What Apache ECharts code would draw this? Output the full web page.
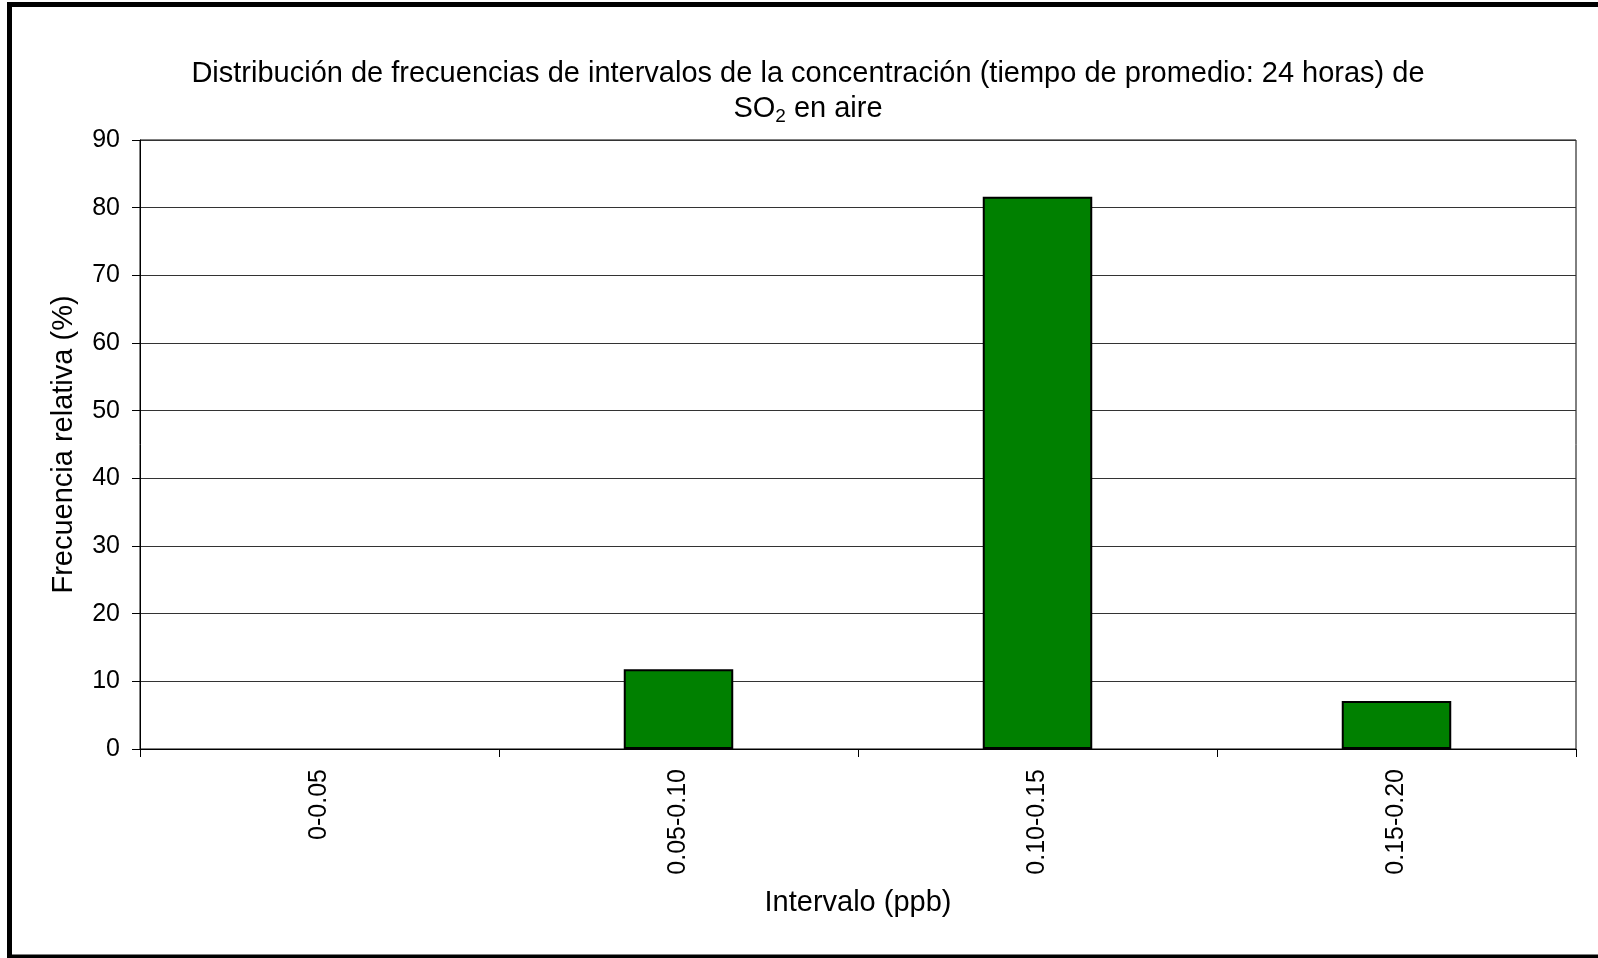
<!DOCTYPE html>
<html>
<head>
<meta charset="utf-8">
<script src="https://cdn.jsdelivr.net/npm/echarts@6/dist/echarts.min.js"></script>
<style>
  html, body { margin: 0; padding: 0; background: #fff; }
  #chart { width: 1598px; height: 958px; }
</style>
</head>
<body>
<div id="chart"></div>
<script>
// data
const categories = ['0-0.05', '0.05-0.10', '0.10-0.15', '0.15-0.20'];
const frequencies = [0, 11.8, 81.6, 7.1];
const yTicks = { min: 0, max: 90, interval: 10 };

const font = 'Liberation Sans, Arial, sans-serif';

const chart = echarts.init(document.getElementById('chart'));

chart.setOption({
  backgroundColor: '#fff',
  animation: false,
  title: {
    text: '{t|Distribución de frecuencias de intervalos de la concentración (tiempo de promedio: 24 horas) de}\n{t|SO}{sub|2}{t| en aire}',
    left: 803,
    textAlign: 'center',
    top: 51,
    textStyle: {
      rich: {
        t: { fontFamily: font, fontSize: 29, fontWeight: 'normal', color: '#000', lineHeight: 35 },
        sub: { fontFamily: font, fontSize: 19, fontWeight: 'normal', color: '#000', lineHeight: 35, padding: [16, 0, 0, 0] },
      },
    },
  },
  graphic: [{
    type: 'rect',
    shape: { x: 9.5, y: 4.5, width: 1700, height: 952.5 },
    style: { fill: 'none', stroke: '#000', lineWidth: 5 },
    silent: true,
  }],
  grid: {
    left: 140,
    right: 22,
    top: 140,
    bottom: 209,
    show: true,
    borderColor: '#000',
    borderWidth: 1,
  },
  xAxis: {
    type: 'category',
    data: categories,
    name: 'Intervalo (ppb)',
    nameLocation: 'middle',
    nameGap: 139,
    nameTextStyle: { fontFamily: font, fontSize: 29, color: '#000' },
    axisLine: { lineStyle: { color: '#000', width: 1 } },
    axisTick: { show: true, length: 8, lineStyle: { color: '#000' } },
    axisLabel: { rotate: 90, margin: 20, fontFamily: font, fontSize: 25, color: '#000' },
    splitLine: { show: false },
  },
  yAxis: {
    type: 'value',
    min: yTicks.min,
    max: yTicks.max,
    interval: yTicks.interval,
    name: 'Frecuencia relativa (%)',
    nameLocation: 'middle',
    nameGap: 62,
    nameTextStyle: { fontFamily: font, fontSize: 29, color: '#000' },
    axisLine: { show: true, lineStyle: { color: '#000', width: 1 } },
    axisTick: { show: true, length: 8, lineStyle: { color: '#000' } },
    axisLabel: { margin: 20, fontFamily: font, fontSize: 25, color: '#000' },
    splitLine: { show: true, lineStyle: { color: '#333', width: 1 } },
  },
  series: [{
    type: 'bar',
    // empty bins draw no outline
    data: frequencies.map(v => (v === 0 ? { value: v, itemStyle: { borderWidth: 0 } } : v)),
    barWidth: '30.5%',
    itemStyle: { color: '#008000', borderColor: '#000', borderWidth: 2 },
  }],
});
</script>
</body>
</html>
